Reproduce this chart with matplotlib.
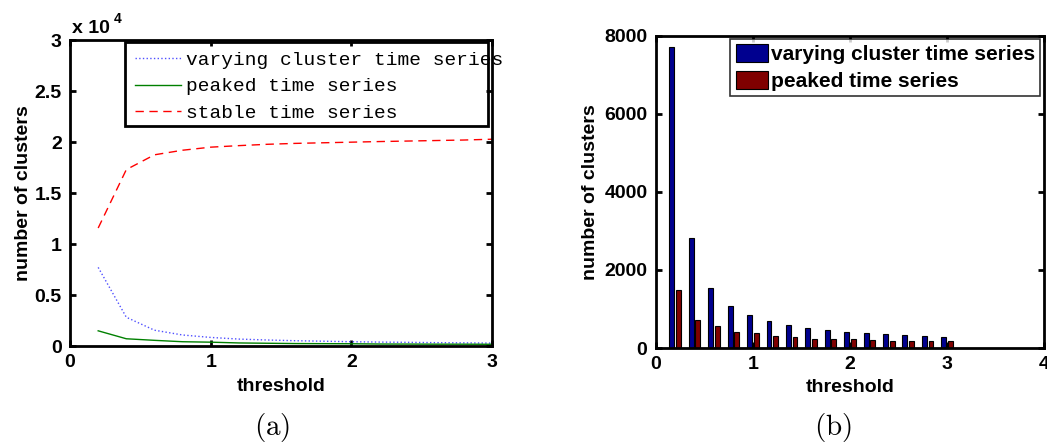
import matplotlib.pyplot as plt
import numpy as np
from matplotlib.ticker import FuncFormatter
from matplotlib.patches import Rectangle

# thresholds
threshold = [0.2, 0.4, 0.6, 0.8, 1.0, 1.2, 1.4, 1.6, 1.8, 2.0, 2.2, 2.4, 2.6, 2.8, 3.0]

# number of clusters per threshold
varying = [7710, 2820, 1550, 1080, 840, 680, 590, 520, 470, 420, 385, 360, 330, 310, 285]
peaked = [1490, 710, 556, 420, 376, 300, 270, 240, 230, 220, 195, 190, 180, 178, 170]
stable = [11570, 17300, 18750, 19200, 19500, 19650, 19780, 19870, 19930, 19990,
          20050, 20100, 20150, 20200, 20280]

plt.rcParams['font.family'] = 'Liberation Sans'
plt.rcParams['font.weight'] = 'bold'
plt.rcParams['mathtext.fontset'] = 'cm'

fig = plt.figure(figsize=(10.47, 4.44), dpi=100)

# ---- (a) line plot
ax1 = fig.add_axes([0.0669, 0.2207, 0.4031, 0.689])
ax1.plot(threshold, varying, ':', color='#5050ff', lw=1, label='varying cluster time series')
ax1.plot(threshold, peaked, '-', color=(0, 0.5, 0), lw=1, label='peaked time series')
ax1.plot(threshold, stable, '--', color='red', lw=1, dashes=(6, 4), label='stable time series')
ax1.set_xlim(0, 3)
ax1.set_ylim(0, 30000)
ax1.set_xticks([0, 1, 2, 3])
ax1.set_yticks(np.arange(0, 30001, 5000))
ax1.yaxis.set_major_formatter(FuncFormatter(lambda v, p: '%g' % (v / 1e4)))
# scale factor label, MATLAB style
ax1.text(0.005, 1.01, 'x 10', transform=ax1.transAxes, fontsize=14,
         fontweight='bold', va='bottom', ha='left')
ax1.text(0.104, 1.045, '4', transform=ax1.transAxes, fontsize=10,
         fontweight='bold', va='bottom', ha='left')
ax1.set_xlabel('threshold', fontsize=14, fontweight='bold', labelpad=5)
ax1.set_ylabel('number of clusters', fontsize=14, fontweight='bold', labelpad=2)
# legend whose text runs past its box, as in the original
leg1 = ax1.legend(loc='upper left', bbox_to_anchor=(0.13, 0.995),
                  prop={'family': 'Liberation Mono', 'size': 14, 'weight': 'normal'},
                  frameon=False, handlelength=2.4, borderaxespad=0, borderpad=0.5,
                  labelspacing=0.45, handletextpad=0.25)
ax1.add_patch(Rectangle((0.130, 0.719), 0.8605, 0.2745, transform=ax1.transAxes,
                        fill=False, edgecolor='black', lw=2, clip_on=False, zorder=4))

# ---- (b) grouped bars
ax2 = fig.add_axes([0.6263, 0.2162, 0.371, 0.703])
x = np.array(threshold)
w = 0.05
ax2.bar(x - 0.034, varying, w, color=(0, 0, 0.56), edgecolor='black', lw=0.8,
        label='varying cluster time series')
ax2.bar(x + 0.034, peaked, w, color=(0.5, 0, 0), edgecolor='black', lw=0.8,
        label='peaked time series')
ax2.set_xlim(0, 4)
ax2.set_ylim(0, 8000)
ax2.set_xticks([0, 1, 2, 3, 4])
ax2.set_yticks([0, 2000, 4000, 6000, 8000])
ax2.set_xlabel('threshold', fontsize=14, fontweight='bold', labelpad=4)
ax2.set_ylabel('number of clusters', fontsize=14, fontweight='bold', labelpad=4)
leg2 = ax2.legend(loc='upper right', bbox_to_anchor=(0.99, 0.99),
                  prop={'weight': 'bold', 'size': 15},
                  frameon=True, fancybox=False, edgecolor='black', handlelength=1.55,
                  handleheight=0.95, borderaxespad=0, labelspacing=0.32,
                  handletextpad=0.15, borderpad=0.25)
leg2.get_frame().set_linewidth(1.2)

for ax in (ax1, ax2):
    for s in ax.spines.values():
        s.set_linewidth(2)
    ax.tick_params(direction='in', top=True, right=True, width=2, length=4,
                   labelsize=14, pad=6)
    for lab in ax.get_xticklabels() + ax.get_yticklabels():
        lab.set_fontweight('bold')

fig.text(0.26, 0.038, r'$\mathrm{(a)}$', fontsize=21, ha='center', va='center')
fig.text(0.796, 0.038, r'$\mathrm{(b)}$', fontsize=21, ha='center', va='center')

fig.savefig('out.png', dpi=100)
